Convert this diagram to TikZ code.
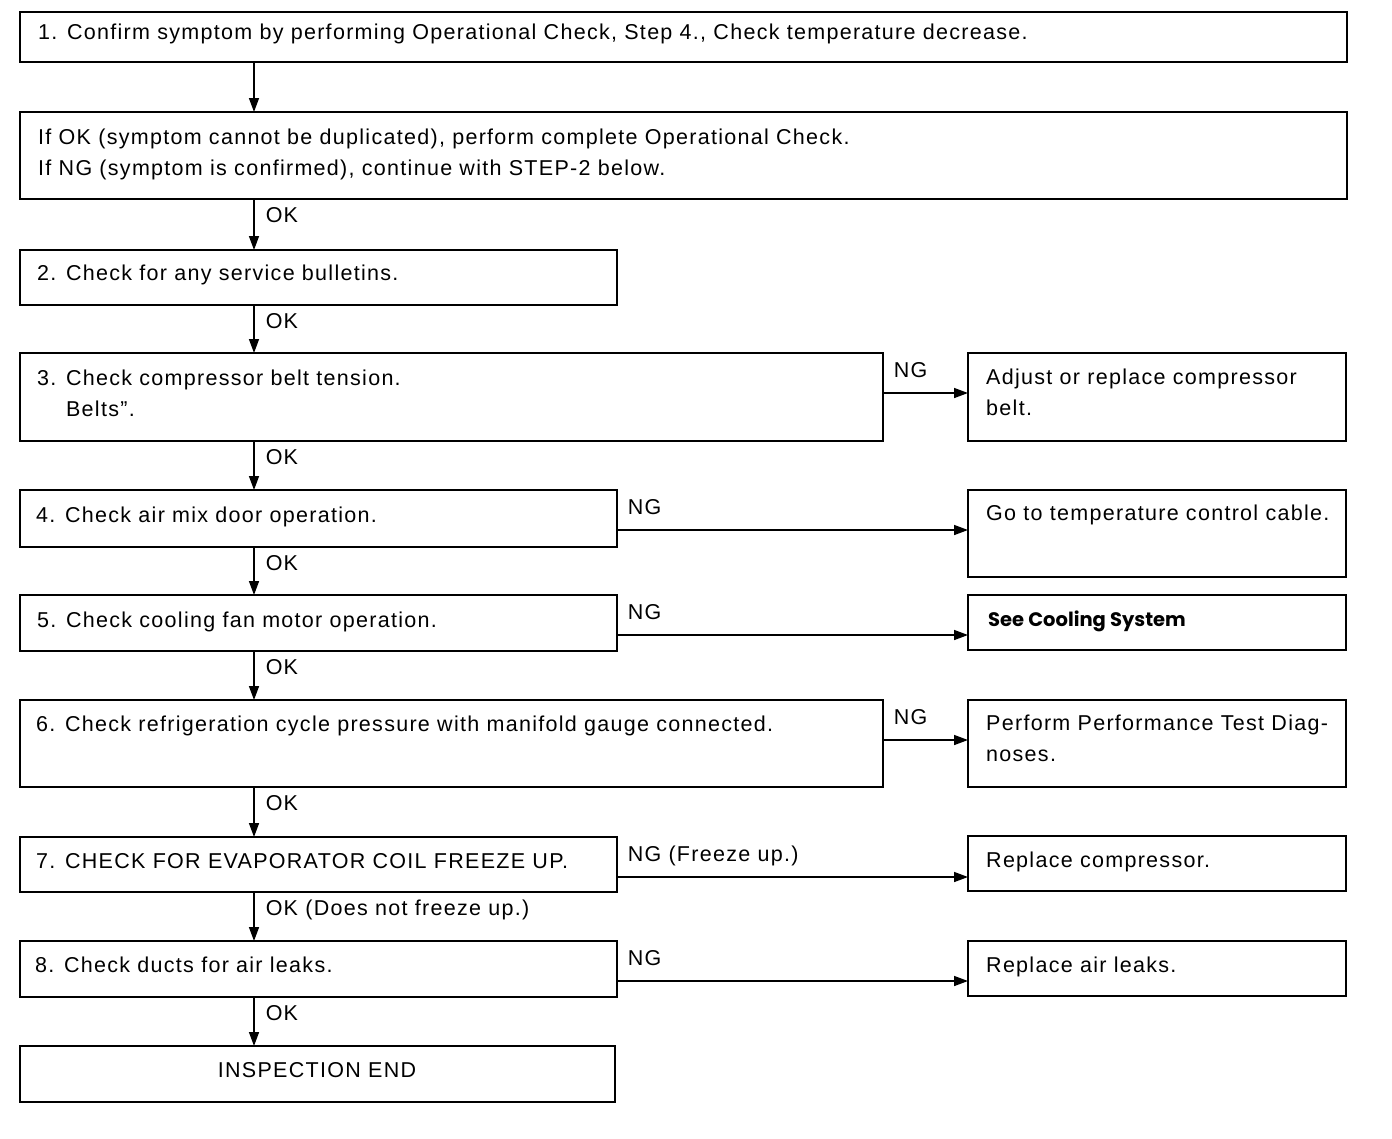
\documentclass[tikz,border=0pt]{standalone}
\usepackage{fontspec}
\setmainfont{Liberation Sans}[LetterSpace=6]
\newfontfamily\popfont{Poppins}
\usetikzlibrary{arrows.meta}
\newcommand\bx[5]{\node[box, minimum width={#4-#2}, minimum height={#5-#3}] (#1) at ({(#2+#4)/2},{(#3+#5)/2}) {};}
\begin{document}
\begin{tikzpicture}[x=1pt,y=-1pt,
  box/.style={draw, line width=1.8pt, inner sep=0pt, outer sep=0pt},
  txt/.style={anchor=base west, inner sep=0pt, font=\fontsize{21.5}{31}\selectfont},
  arr/.style={line width=1.5pt, -{Triangle[length=14pt,width=10pt]}},
  oklab/.style={anchor=base west, inner sep=0pt, xshift=11pt, yshift=-23pt, font=\fontsize{21.5}{31}\selectfont},
  nglab/.style={anchor=base west, inner sep=0pt, xshift=10pt, yshift=16pt, font=\fontsize{21.5}{31}\selectfont}]
\useasboundingbox (0,0) rectangle (1392,1138);
\coordinate (ax) at (254,0);
\bx{b1}{20}{12}{1347}{62}
\bx{b2}{20}{112}{1347}{199}
\bx{s2}{20}{250}{617}{305}
\bx{s3}{20}{353}{883}{441}
\bx{r3}{968}{353}{1346}{441}
\bx{s4}{20}{490}{617}{547}
\bx{r4}{968}{490}{1346}{577}
\bx{s5}{20}{595}{617}{651}
\bx{r5}{968}{595}{1346}{650}
\bx{s6}{20}{700}{883}{787}
\bx{r6}{968}{700}{1346}{787}
\bx{s7}{20}{837}{617}{892}
\bx{r7}{968}{836}{1346}{891}
\bx{s8}{20}{941}{617}{997}
\bx{r8}{968}{941}{1346}{996}
\bx{e}{20}{1046}{615}{1102}
% texts
\node[txt] (t1) at (38,39) {1. Confirm symptom by performing Operational Check, Step 4., Check temperature decrease.};
\node[txt] (t2) at (38,144) {\begin{tabular}[t]{@{}l@{}}If OK (symptom cannot be duplicated), perform complete Operational Check.\\If NG (symptom is confirmed), continue with STEP-2 below.\end{tabular}};
\node[txt] (ts2) at (37,280) {2. Check for any service bulletins.};
\node[txt] (ts3) at (37,385) {\begin{tabular}[t]{@{}l@{}}3. Check compressor belt tension.\\\hphantom{3. }Belts”.\end{tabular}};
\node[txt] (tr3) at (986,384) {\begin{tabular}[t]{@{}l@{}}Adjust or replace compressor\\belt.\end{tabular}};
\node[txt] (ts4) at (36,522) {4. Check air mix door operation.};
\node[txt] (tr4) at (986,520) {Go to temperature control cable.};
\node[txt] (ts5) at (37,627) {5. Check cooling fan motor operation.};
\node[txt, font=\popfont\bfseries\fontsize{19.5}{24}\selectfont] (tr5) at (988,626) {See Cooling System};
\node[txt] (ts6) at (36,731) {6. Check refrigeration cycle pressure with manifold gauge connected.};
\node[txt] (tr6) at (986,730) {\begin{tabular}[t]{@{}l@{}}Perform Performance Test Diag-\\noses.\end{tabular}};
\node[txt] (ts7) at (36,868) {7. CHECK FOR EVAPORATOR COIL FREEZE UP.};
\node[txt] (tr7) at (986,867) {Replace compressor.};
\node[txt] (ts8) at (35,972) {8. Check ducts for air leaks.};
\node[txt] (tr8) at (986,972) {Replace air leaks.};
\node[txt, anchor=base] (te) at (317,1077) {INSPECTION END};
% vertical arrows
\draw[arr] (b1.south -| ax) -- (b2.north -| ax);
\draw[arr] (b2.south -| ax) -- (s2.north -| ax) node[oklab, at start] {OK};
\draw[arr] (s2.south -| ax) -- (s3.north -| ax) node[oklab, at start] {OK};
\draw[arr] (s3.south -| ax) -- (s4.north -| ax) node[oklab, at start] {OK};
\draw[arr] (s4.south -| ax) -- (s5.north -| ax) node[oklab, at start] {OK};
\draw[arr] (s5.south -| ax) -- (s6.north -| ax) node[oklab, at start] {OK};
\draw[arr] (s6.south -| ax) -- (s7.north -| ax) node[oklab, at start] {OK};
\draw[arr] (s7.south -| ax) -- (s8.north -| ax) node[oklab, at start] {OK (Does not freeze up.)};
\draw[arr] (s8.south -| ax) -- (e.north -| ax) node[oklab, at start] {OK};
% NG arrows
\coordinate (y3) at (0,393);
\coordinate (y4) at (0,530);
\coordinate (y5) at (0,635);
\coordinate (y6) at (0,740);
\coordinate (y7) at (0,877);
\coordinate (y8) at (0,981);
\draw[arr] (s3.east |- y3) -- (r3.west |- y3) node[nglab, at start] {NG};
\draw[arr] (s4.east |- y4) -- (r4.west |- y4) node[nglab, at start] {NG};
\draw[arr] (s5.east |- y5) -- (r5.west |- y5) node[nglab, at start] {NG};
\draw[arr] (s6.east |- y6) -- (r6.west |- y6) node[nglab, at start] {NG};
\draw[arr] (s7.east |- y7) -- (r7.west |- y7) node[nglab, at start] {NG (Freeze up.)};
\draw[arr] (s8.east |- y8) -- (r8.west |- y8) node[nglab, at start] {NG};
\end{tikzpicture}
\end{document}
